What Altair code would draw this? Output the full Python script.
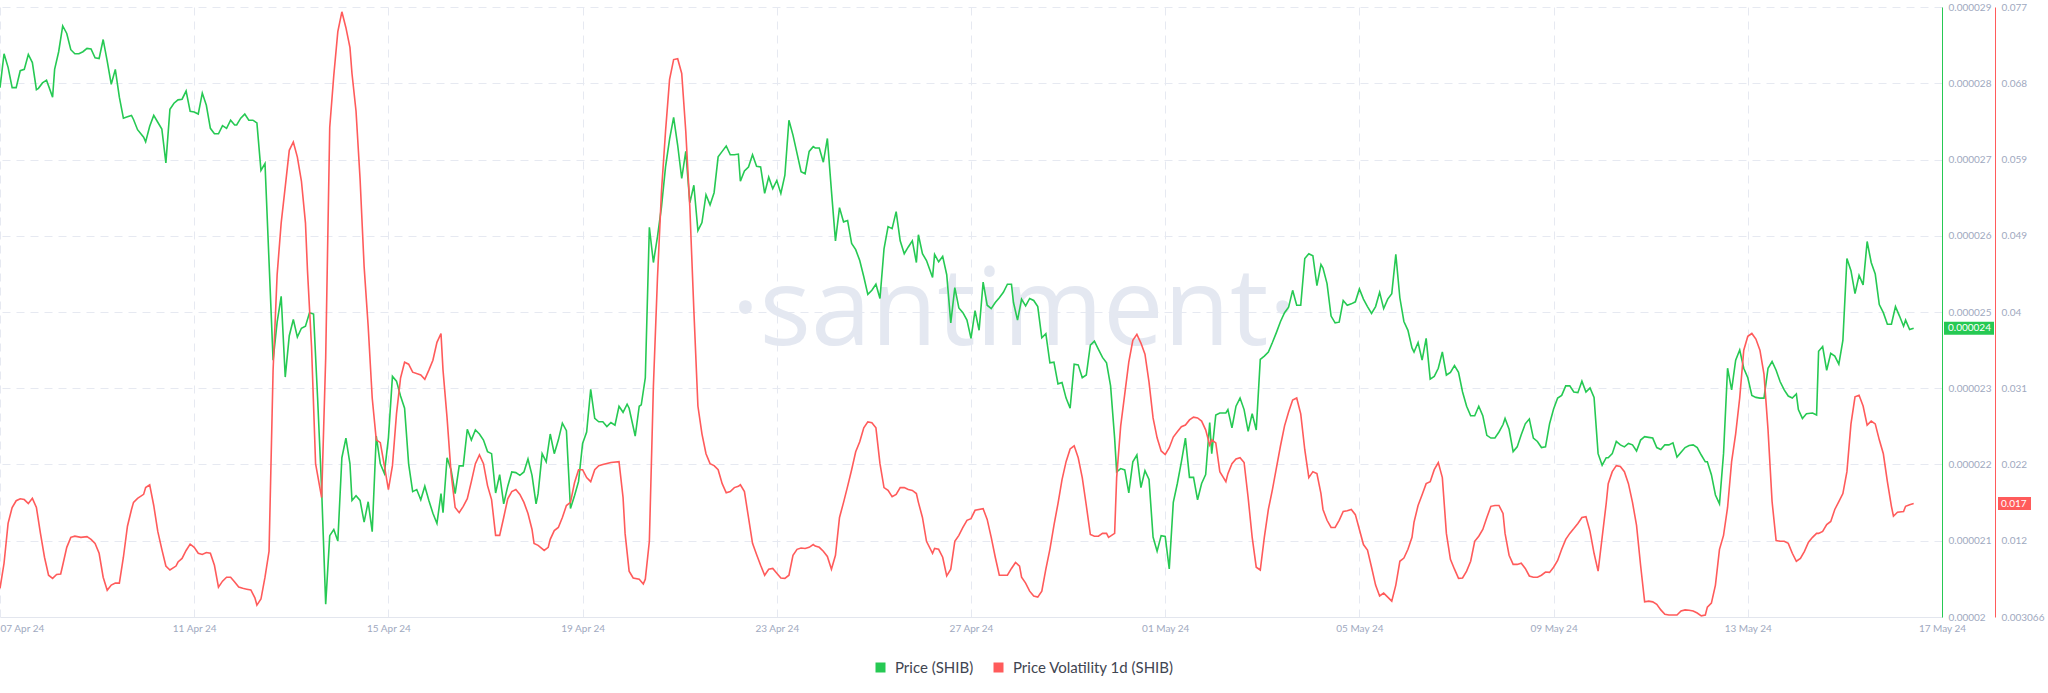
import json
import altair as alt
import numpy as np
import pandas as pd

# ---------------- data ----------------
# hours since 07 Apr 2024 00:00 ; price in millionths of USD
price_hours_a = [0,2,4,6,8,10,12,14,16,18,19,21,23,26,27,29,31,33,35,37,39,41,43,45,47,49,51,53,55,57,59,61,63,65,66,68,71,72,74,76,78,80,82,84,86,88,90,92,94,96,98,100,102,104,106,108,110,112,114,116,117,119,121,123,125,127,129,131,135,137,139,141,143,145,147,149,151,153,155,157,159]
price_micro_a = [27.81,28.31,28.11,27.81,27.81,28.06,28.08,28.30,28.18,27.78,27.80,27.88,27.92,27.67,28.08,28.34,28.72,28.61,28.37,28.31,28.31,28.34,28.39,28.38,28.25,28.24,28.52,28.20,27.86,28.08,27.67,27.36,27.38,27.40,27.34,27.19,27.08,27.01,27.24,27.40,27.30,27.20,26.70,27.49,27.58,27.63,27.64,27.76,27.46,27.45,27.42,27.73,27.55,27.21,27.13,27.13,27.25,27.21,27.33,27.26,27.26,27.36,27.42,27.33,27.33,27.29,26.59,26.69,23.79,24.35,24.73,23.54,24.15,24.39,24.13,24.26,24.29,24.49,24.47,23.23,21.88]
price_hours_b = [161,163,165,167,169,171,173,174,176,178,180,182,184,186,188,190,192,194,196,198,200,202,204,206,208,210,212,214,216,218,219,221,223,225,227,229,231,233,235,237,239,241,243,245,247,249,251,253,255,257,259,261,263,265,266,268,270,272,274,276,278,280,282,284,286,288,290,292,294,296,298,300,302,304,306,308,310,311,314,316,317,319]
price_micro_b = [20.19,21.20,21.29,21.12,22.35,22.64,22.26,21.72,21.79,21.72,21.40,21.70,21.26,22.67,22.26,22.12,22.64,23.55,23.48,23.26,23.08,22.26,21.85,21.88,21.73,21.93,21.72,21.53,21.38,21.82,21.54,22.35,22.17,21.82,22.23,22.23,22.77,22.61,22.76,22.70,22.61,22.44,22.41,21.83,22.10,21.67,21.93,22.14,22.13,22.09,22.14,22.33,22.09,21.67,21.82,22.41,22.29,22.70,22.41,22.61,22.86,22.75,21.60,21.79,22.00,22.56,22.73,23.36,22.93,22.88,22.88,22.81,22.87,22.83,23.11,23.02,23.14,23.08,22.67,23.11,23.13,23.53]
price_hours_c = [321,323,325,327,329,331,333,335,337,339,341,343,345,347,349,351,353,355,357,359,361,363,365,366,368,370,372,374,376,378,380,382,384,386,388,390,392,394,396,398,400,402,403,405,407,409,411,413,415,417,419,421,423,425,427,429,431,433,435,437,439,441,443,445,447,449,451,453,454,456,458,461,462,464,466,468,470,472,474,476,478,480]
price_micro_c = [25.75,25.23,25.61,26.05,26.64,27.05,27.37,26.96,26.47,26.87,26.11,26.37,25.70,25.82,26.23,26.08,26.26,26.79,26.87,26.95,26.82,26.82,26.83,26.43,26.58,26.64,26.82,26.65,26.64,26.25,26.49,26.32,26.44,26.25,26.52,27.33,27.11,26.84,26.57,26.54,26.87,26.94,26.92,26.92,26.71,27.06,26.29,25.55,26.04,25.83,25.85,25.51,25.42,25.26,25.02,24.76,24.82,24.91,24.70,25.43,25.76,25.73,25.98,25.55,25.36,25.46,25.55,25.23,25.64,25.36,25.26,25.01,25.35,25.24,25.32,25.05,24.34,24.86,24.56,24.49,24.38,24.11]
price_hours_d = [482,484,486,488,490,492,494,496,498,500,501,503,505,507,509,511,513,515,517,519,521,523,525,527,529,531,533,535,537,539,541,543,545,547,549,551,552,554,556,558,560,562,564,566,568,570,572,574,576,578,580,582,584,586,588,590,592,594,596,598,599,601,603,606,607,609,611,613,615,617,619,621,623,625,627,629,631,633,635,637,639,641]
price_micro_d = [24.52,24.23,24.94,24.60,24.55,24.64,24.71,24.79,24.91,24.91,24.64,24.38,24.69,24.59,24.70,24.67,24.58,24.12,24.18,23.75,23.76,23.44,23.46,23.23,23.08,23.73,23.72,23.53,23.57,24.01,24.07,23.95,23.83,23.75,23.41,22.64,22.14,22.19,22.17,21.83,22.29,22.39,21.91,22.16,22.03,21.18,20.97,21.20,21.19,20.71,21.69,21.97,22.29,22.64,22.06,22.06,21.73,21.97,22.10,22.87,22.41,22.98,23.01,23.01,23.06,22.79,23.11,23.23,23.06,22.74,23.00,22.76,23.80,23.85,23.91,24.05,24.20,24.36,24.49,24.57,24.82,24.60]
price_hours_e = [643,645,647,649,651,653,654,656,658,660,662,664,666,668,670,672,674,676,678,680,682,684,686,688,690,692,694,696,698,699,701,703,705,707,709,711,713,715,717,719,721,723,725,727,729,731,733,735,737,739,741,743,744,746,748,750,752,754,756,758,760,762,764,766,768,770,772,774,776,778,780,782,784,786,788,790,792,794,795,797,799]
price_micro_e = [24.60,25.29,25.36,25.33,24.89,25.20,25.15,24.92,24.44,24.34,24.35,24.67,24.60,24.62,24.65,24.84,24.69,24.58,24.48,24.58,24.79,24.55,24.69,24.77,25.35,24.71,24.36,24.23,23.97,23.91,24.05,23.79,24.11,23.51,23.55,23.67,23.91,23.57,23.61,23.71,23.61,23.32,23.11,22.97,22.97,23.11,22.97,22.68,22.64,22.64,22.73,22.84,22.93,22.77,22.44,22.51,22.69,22.85,22.92,22.64,22.59,22.50,22.51,22.85,23.07,23.23,23.27,23.41,23.41,23.32,23.31,23.48,23.32,23.38,23.24,22.41,22.24,22.35,22.35,22.41,22.59]
price_hours_f = [801,803,805,807,809,811,813,815,817,819,821,823,825,827,829,831,833,835,837,839,841,843,844,846,848,850,852,854,856,858,860,862,864,866,868,870,872,874,876,878,880,882,884,886,888,889,891,893,896,898,899,901,903,905,907,909,911,913,915,917,919,921,923,925,927,929,931,933,935,937,939,941,942,944,946]
price_micro_f = [22.54,22.51,22.56,22.54,22.45,22.61,22.66,22.65,22.64,22.50,22.47,22.54,22.54,22.57,22.36,22.43,22.50,22.53,22.54,22.50,22.39,22.29,22.29,22.10,21.80,21.67,22.41,23.67,23.35,23.79,23.94,23.67,23.53,23.27,23.24,23.23,23.23,23.67,23.77,23.64,23.47,23.35,23.26,23.23,23.29,23.06,22.93,23.00,23.01,22.98,23.92,23.99,23.64,23.89,23.85,23.73,24.08,25.29,25.11,24.77,25.04,24.90,25.54,25.23,25.06,24.61,24.49,24.32,24.32,24.58,24.44,24.29,24.38,24.24,24.26]

# volatility in thousandths
vol_hours_a = [0,2,4,6,8,10,12,14,16,18,20,22,24,26,28,30,31,33,35,37,40,43,45,47,49,51,53,55,57,59,61,63,65,66,68,71,72,74,76,78,80,82,84,87,88,90,92,94,96,98,100,102,104,106,108,110,112,114,116,118,120,122,124,126,127,129,131,133,135,137,139,141,143,145,147,149,151,152,154,156,159]
vol_milli_a = [6.54,9.58,14.41,16.34,17.16,17.40,17.30,16.82,17.45,16.34,13.20,10.31,8.13,7.75,8.23,8.28,9.34,11.51,12.72,12.86,12.72,12.81,12.48,11.99,10.79,7.89,6.30,6.93,7.17,7.17,10.31,14.07,16.10,16.96,17.45,17.93,18.75,19.09,16.58,13.44,11.27,9.24,8.76,9.24,9.73,10.16,11.13,11.90,11.51,10.79,10.64,10.88,10.79,9.34,6.69,7.41,7.89,7.89,7.31,6.69,6.54,6.44,6.35,5.38,4.51,5.24,7.89,11.03,33.00,44.57,50.84,55.19,59.63,60.64,58.81,55.91,50.84,45.05,35.88,21.65,17.54]
vol_hours_b = [161,163,165,167,169,171,173,174,176,178,180,182,184,186,188,190,192,194,196,198,200,202,204,208,210,212,214,216,218,219,221,223,225,227,229,231,233,235,237,239,241,243,245,247,249,251,253,255,257,259,261,263,264,266,269,271,272,274,276,278,280,282,284,286,288,290,292,294,296,298,302,306,308,309,311,313,316,318,319]
vol_milli_b = [34.44,62.43,68.70,74.01,76.42,74.49,72.08,68.94,64.36,56.15,45.53,38.30,29.61,24.54,24.20,21.41,18.51,21.41,27.68,32.02,33.95,33.71,32.74,32.41,31.88,32.99,34.19,36.36,37.43,32.99,27.20,20.44,16.34,15.71,16.48,17.40,19.47,21.65,22.71,21.65,18.99,17.30,12.96,12.96,15.13,17.40,18.27,18.51,17.93,16.96,15.61,13.68,11.99,11.75,11.13,11.51,12.48,13.54,13.92,15.13,16.58,16.96,19.33,20.92,20.92,19.96,19.47,20.92,21.41,21.55,21.79,21.89,17.54,13.20,8.62,7.80,7.65,7.07,7.65]
vol_hours_c = [321,323,325,327,329,331,333,335,337,339,341,343,345,347,349,351,353,355,357,359,361,363,365,366,368,370,372,374,376,378,380,382,384,386,388,390,392,394,396,398,400,402,403,405,407,409,411,413,415,417,419,421,423,425,427,429,431,433,435,437,439,441,443,445,447,449,451,453,454,456,458,461,462,464,466,468,470,472,474,476,478,480]
vol_milli_c = [12.24,31.06,44.09,54.70,61.94,68.22,70.63,70.73,68.94,61.94,52.77,40.23,28.64,25.27,22.85,21.65,21.41,20.92,19.23,18.12,18.27,18.75,18.90,19.09,18.27,15.13,11.99,10.64,9.34,8.13,8.86,8.95,8.37,7.80,7.75,8.13,10.55,11.27,11.42,11.37,11.51,11.85,11.66,11.51,11.03,10.40,8.86,10.55,15.13,16.96,18.90,20.92,23.09,24.30,25.99,26.71,26.62,25.99,21.65,18.75,18.41,17.64,17.93,18.75,18.75,18.51,18.41,18.03,16.96,15.13,12.24,10.79,11.37,11.27,10.31,8.04,8.86,12.24,12.96,13.92,14.79,14.99]
vol_hours_d = [482,486,488,490,492,494,498,500,502,504,505,507,509,511,513,515,517,519,521,523,525,527,529,531,533,535,537,539,541,543,545,547,548,551,552,554,556,558,560,562,564,566,568,570,572,574,576,578,580,582,584,586,588,590,592,594,596,598,599,601,603,606,607,609,611,613,615,617,619,621,623,625,627,629,631,633,635,637,639,641]
vol_milli_d = [16.00,16.19,14.89,12.72,10.31,8.13,8.13,8.95,9.68,9.24,7.89,7.17,6.20,5.62,5.48,6.20,8.86,11.27,14.17,16.82,19.72,21.89,23.43,23.82,22.37,19.96,16.58,13.06,12.86,12.86,13.20,13.20,12.72,13.20,19.96,26.23,30.09,33.95,36.61,37.33,36.27,34.92,31.54,27.20,24.78,23.19,22.76,23.58,24.88,25.51,26.13,26.33,26.95,27.29,27.20,26.81,25.75,23.91,24.54,24.16,20.68,19.47,20.44,21.65,22.23,22.37,21.79,17.54,12.72,9.10,8.76,12.72,16.10,18.51,21.16,23.82,26.23,27.92,29.37,29.61]
vol_hours_e = [643,645,647,649,651,653,654,656,658,660,662,664,666,668,670,672,674,676,678,680,682,684,686,688,690,692,694,696,698,699,701,703,705,707,709,711,713,715,717,719,721,723,725,727,729,731,733,735,737,739,741,743,744,746,748,750,752,754,756,758,760,762,764,766,768,770,772,774,776,778,780,782,784,786,788,790,792,794,795,797,799]
vol_milli_e = [27.68,23.34,19.96,20.68,20.44,18.03,16.10,14.79,13.92,13.92,14.79,15.86,15.95,16.10,15.47,13.68,11.85,11.17,9.10,6.93,5.62,5.96,5.48,4.99,6.93,9.82,10.21,11.27,12.72,14.55,16.58,17.88,19.23,19.47,20.92,21.79,19.96,13.20,10.06,8.86,7.75,7.80,8.62,9.82,12.24,12.86,13.68,15.13,16.48,16.58,16.58,15.61,13.20,10.55,9.44,9.44,9.58,8.95,8.04,7.89,7.89,8.13,8.52,8.47,9.10,9.92,11.27,12.48,13.20,13.78,14.41,15.13,15.23,13.44,10.79,8.62,12.72,16.82,19.23,20.68,21.41]
vol_hours_f = [801,803,805,807,809,811,813,815,817,819,821,823,825,827,829,831,833,835,837,839,841,843,844,846,848,850,852,854,856,858,860,862,864,866,868,870,872,874,876,878,880,882,884,886,888,890,892,894,896,898,899,901,903,905,907,909,911,913,915,917,919,921,923,925,927,929,931,933,935,936,938,941,942,944,946]
vol_milli_f = [21.31,20.68,19.23,16.96,14.17,9.34,4.90,4.99,4.90,4.61,3.93,3.40,3.31,3.31,3.31,3.79,3.93,3.89,3.79,3.55,3.21,3.31,4.27,4.75,6.93,11.27,12.96,16.34,21.89,25.27,29.61,35.40,37.09,37.43,36.75,35.40,32.50,25.75,17.06,12.33,12.24,12.24,11.99,10.79,9.82,10.16,11.03,12.14,12.72,13.20,13.20,13.44,14.26,14.65,16.10,17.06,18.03,20.68,26.47,29.75,29.95,28.64,26.33,26.81,26.47,24.54,22.85,19.47,16.48,15.28,15.76,15.86,16.48,16.68,16.82]

series_names = ["Price (SHIB)", "Price Volatility 1d (SHIB)"]
x_tick_dates = ["2024-04-07", "2024-04-11", "2024-04-15", "2024-04-19", "2024-04-23", "2024-04-27",
                "2024-05-01", "2024-05-05", "2024-05-09", "2024-05-13", "2024-05-17"]
x_range = ["2024-04-07", "2024-05-17"]
price_range = [0.00002, 0.000029]
price_tick_labels = ["0.00002", "0.000021", "0.000022", "0.000023", "0.000025",
                     "0.000026", "0.000027", "0.000028", "0.000029"]
vol_range = [0.003066, 0.077]
vol_tick_labels = ["0.003066", "0.012", "0.022", "0.031", "0.04", "0.049", "0.059", "0.068", "0.077"]
watermark = ["·santiment·"]

# ---------------- build tables ----------------
price_hours = price_hours_a + price_hours_b + price_hours_c + price_hours_d + price_hours_e + price_hours_f
price_micro = price_micro_a + price_micro_b + price_micro_c + price_micro_d + price_micro_e + price_micro_f
vol_hours = vol_hours_a + vol_hours_b + vol_hours_c + vol_hours_d + vol_hours_e + vol_hours_f
vol_milli = vol_milli_a + vol_milli_b + vol_milli_c + vol_milli_d + vol_milli_e + vol_milli_f
assert len(price_hours) == len(price_micro), (len(price_hours), len(price_micro))
assert len(vol_hours) == len(vol_milli), (len(vol_hours), len(vol_milli))

start = pd.Timestamp(x_range[0])
price_df = pd.DataFrame({
    "time": start + pd.to_timedelta(price_hours, unit="h"),
    "value": np.array(price_micro) * 1e-6,
    "series": series_names[0],
})
vol_df = pd.DataFrame({
    "time": start + pd.to_timedelta(vol_hours, unit="h"),
    "value": np.array(vol_milli) * 1e-3,
    "series": series_names[1],
})
price_last = price_df.tail(1)
vol_last = vol_df.tail(1)


def dt(s):
    t = pd.Timestamp(s)
    return alt.DateTime(year=t.year, month=t.month, date=t.day)


# ---------------- styling ----------------
W, H = 1942, 610
GREEN = "#26c953"
RED = "#ff5b5b"
AXIS_TXT = "#a0a9c0"
GRID = "#e6e9f1"
FONT = "Lato"
RED_OFFSET = 53

price_ticks = list(np.linspace(price_range[0], price_range[1], len(price_tick_labels)))
price_step = (price_range[1] - price_range[0]) / (len(price_tick_labels) - 1)
vol_ticks = list(np.linspace(vol_range[0], vol_range[1], len(vol_tick_labels)))
vol_step = (vol_range[1] - vol_range[0]) / (len(vol_tick_labels) - 1)

price_label_expr = f"{json.dumps(price_tick_labels)}[round((datum.value - {price_range[0]}) / {price_step})]"
vol_label_expr = f"{json.dumps(vol_tick_labels)}[round((datum.value - {vol_range[0]}) / {vol_step})]"

color = alt.Color(
    "series:N",
    scale=alt.Scale(domain=series_names, range=[GREEN, RED]),
    legend=alt.Legend(
        title=None, orient="none", direction="horizontal",
        legendX=873, legendY=653,
        symbolType="square", symbolSize=25, symbolStrokeWidth=5,
        labelFont=FONT, labelFontSize=15, labelColor="#3f4551", labelLimit=500,
        columnPadding=12, labelOffset=7,
    ),
)

x_enc = alt.X(
    "time:T",
    scale=alt.Scale(domain=[dt(x_range[0]), dt(x_range[1])]),
    axis=alt.Axis(
        title=None, format="%d %b %y", values=[dt(d) for d in x_tick_dates],
        labelFont=FONT, labelFontSize=10, labelColor=AXIS_TXT, labelPadding=6,
        labelOverlap=False,
        labelAlign={"condition": {"test": "datum.value < datetime(2024, 3, 8)", "value": "left"}, "value": "center"},
        ticks=False, domainColor="#e3e6ee", domainWidth=1,
        grid=True, gridColor=GRID, gridDash=[8, 6], gridWidth=1,
    ),
)

price_scale = alt.Scale(domain=price_range, nice=False, zero=False)
vol_scale = alt.Scale(domain=vol_range, nice=False, zero=False)

price_axis = alt.Axis(
    orient="right", title=None, values=price_ticks, labelExpr=price_label_expr,
    labelFont=FONT, labelFontSize=10, labelColor=AXIS_TXT, labelPadding=6,
    labelBaseline="middle", labelOverlap=False, labelFlush=False,
    ticks=False, domainColor=GREEN, domainWidth=1,
    grid=True, gridColor=GRID, gridDash=[8, 6], gridWidth=1,
)
vol_axis = alt.Axis(
    orient="right", offset=RED_OFFSET, title=None, values=vol_ticks, labelExpr=vol_label_expr,
    labelFont=FONT, labelFontSize=10, labelColor=AXIS_TXT, labelPadding=6,
    labelBaseline="middle", labelOverlap=False, labelFlush=False,
    ticks=False, domainColor=RED, domainWidth=1, grid=False,
)

wm = alt.Chart(pd.DataFrame({"label": watermark})).mark_text(
    font="Open Sans", fontSize=108, color="#e4e8f1", align="center", baseline="alphabetic",
).encode(x=alt.value(1014), y=alt.value(338), text="label:N")

price_line = alt.Chart(price_df).mark_line(strokeWidth=1.6).encode(
    x=x_enc, y=alt.Y("value:Q", scale=price_scale, axis=price_axis), color=color,
)
price_badge = alt.Chart(price_last).mark_rule(strokeWidth=13, color=GREEN, strokeCap="butt").encode(
    x=alt.value(W + 2), x2=alt.value(W + RED_OFFSET - 1), y=alt.Y("value:Q", scale=price_scale),
)
price_badge_txt = alt.Chart(price_last).mark_text(
    align="left", baseline="middle", font=FONT, fontSize=10, color="white",
).encode(x=alt.value(W + 6), y=alt.Y("value:Q", scale=price_scale),
         text=alt.Text("value:Q", format=".6f"))
price_layer = alt.layer(price_line, price_badge, price_badge_txt)

vol_line = alt.Chart(vol_df).mark_line(strokeWidth=1.6).encode(
    x=x_enc, y=alt.Y("value:Q", scale=vol_scale, axis=vol_axis), color=color,
)
vol_badge = alt.Chart(vol_last).mark_rule(strokeWidth=13, color=RED, strokeCap="butt").encode(
    x=alt.value(W + RED_OFFSET + 3), x2=alt.value(W + RED_OFFSET + 36), y=alt.Y("value:Q", scale=vol_scale),
)
vol_badge_txt = alt.Chart(vol_last).mark_text(
    align="left", baseline="middle", font=FONT, fontSize=10, color="white",
).encode(x=alt.value(W + RED_OFFSET + 6), y=alt.Y("value:Q", scale=vol_scale),
         text=alt.Text("value:Q", format=".3f"))
vol_layer = alt.layer(vol_line, vol_badge, vol_badge_txt)

chart = alt.layer(wm, price_layer, vol_layer).resolve_scale(y="independent").properties(
    width=W, height=H,
    autosize=alt.AutoSizeParams(type="none"),
    padding={"left": 0, "top": 7, "right": 2048 - W, "bottom": 693 - H - 7},
    background="white",
).configure_view(stroke=None)

chart.save("out.html", embed_options={"renderer": "svg", "actions": False})
